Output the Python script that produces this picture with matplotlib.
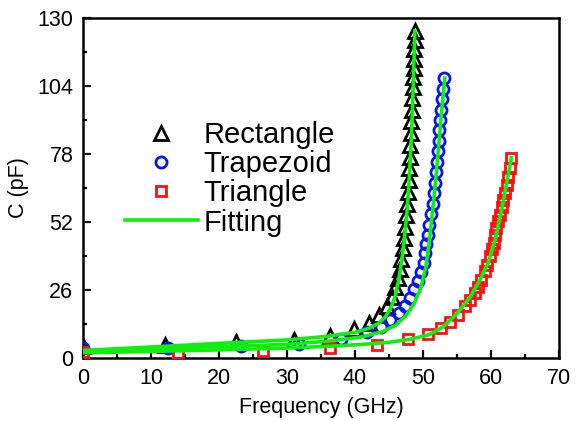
import matplotlib
matplotlib.use("Agg")
import matplotlib.pyplot as plt
from matplotlib.ticker import MultipleLocator

plt.rcParams['font.family'] = ['Liberation Sans', 'DejaVu Sans']

# ---- data ----
rect_f = [0, 12, 22.5, 31, 36.3, 39.8, 42.0, 43.6, 44.7, 45.4, 45.9, 46.3, 46.55, 46.8, 47.0,
          47.2, 47.4, 47.55, 47.7, 47.8, 47.9, 48.0, 48.07, 48.15, 48.22, 48.3, 48.37, 48.45,
          48.5, 48.57, 48.62, 48.67, 48.72, 48.78, 48.85]
rect_c = [4.5, 5, 6, 7, 8.5, 11, 13.5, 16.5, 20, 23.5, 27, 30.5, 34, 38, 42,
          46, 50, 54.5, 59, 63.5, 68, 72.5, 77, 81.5, 86, 90.5, 95, 99.5,
          103.5, 107.5, 111, 114.5, 118, 121.5, 125]

trap_f = [0, 12.5, 23.3, 31.8, 38, 41.8, 43.8, 45.2, 46.5, 47.4, 48.1, 48.7, 49.2, 49.7, 50.1,
          50.3, 50.5, 50.7, 50.95, 51.2, 51.4, 51.55, 51.7, 51.85, 52.0, 52.15, 52.3, 52.4,
          52.5, 52.6, 52.75, 52.9, 53.05]
trap_c = [4, 4, 4.5, 5.5, 7.3, 9.8, 12, 14.5, 17.2, 20, 23, 26.2, 29.5, 33, 36.5,
          40, 43.5, 47, 51, 55, 59, 63, 67, 71, 75, 79, 83, 87,
          91, 95, 99, 103, 107]

tri_f = [0, 14, 26.5, 36.3, 43.3, 47.8, 50.8, 52.7, 54.0, 55.2, 56.2, 56.9, 57.6, 58.1, 58.6,
         59.1, 59.4, 59.8, 60.1, 60.4, 60.6, 60.8, 61.1, 61.3, 61.6, 61.8, 62.1, 62.3, 62.5,
         62.8, 63.0]
tri_c = [2.2, 2.0, 2.5, 3.7, 5.0, 7.1, 9.0, 11.4, 13.9, 16.4, 19.7, 22.2, 24.8, 27.3, 29.9,
         33.2, 35.7, 38.9, 41.5, 44.0, 47.2, 49.8, 52.3, 54.7, 57.9, 60.4, 63.0, 66.2, 69.3,
         72.5, 76.3]

fit_rect_f = [0, 10, 20, 30, 36, 40, 42, 43.5, 44.5, 45.3, 45.9, 46.4, 46.9, 47.3, 47.7,
              48.0, 48.3, 48.55, 48.8]
fit_rect_c = [2.9, 4.2, 5.6, 6.9, 8.3, 9.8, 11.3, 13.3, 15.8, 19.3, 23.5, 29.5, 37.5, 46.5,
              57.5, 69.5, 84.5, 102.5, 125]

fit_trap_f = [0, 10, 20, 30, 36.3, 41, 44, 46, 47.5, 48.7, 49.7, 50.4, 50.9, 51.4, 51.9,
              52.3, 52.7, 53.0, 53.2]
fit_trap_c = [2.6, 3.5, 4.4, 5.2, 6.5, 8.1, 10, 12.5, 16.2, 20.8, 27, 34.5, 44, 56, 69,
              81, 93, 101.5, 107]

fit_tri_f = [0, 10, 20, 30, 36.3, 41, 45, 48, 51, 53, 55, 57, 58.4, 59.6, 60.6, 61.4, 62.1,
             62.6, 63.0]
fit_tri_c = [2.0, 2.5, 3.1, 3.8, 4.5, 5.2, 6.0, 7.1, 9.0, 12.0, 17.0, 23.5, 30, 36.5, 45,
             54.5, 64, 71, 76.5]

labels = ["Rectangle", "Trapezoid", "Triangle", "Fitting"]
x_ticks = [0, 10, 20, 30, 40, 50, 60, 70]
y_ticks = [0, 26, 52, 78, 104, 130]

green = "#10ee10"

fig = plt.figure(figsize=(5.77, 4.21), dpi=100)
ax = fig.add_axes([83 / 577, 1 - 358 / 421, 476 / 577, 340 / 421])

h1, = ax.plot(rect_f, rect_c, linestyle="none", marker="^", ms=9.5, mfc="none",
              mec="black", mew=2.0, label=labels[0], zorder=3)
h2, = ax.plot(trap_f, trap_c, linestyle="none", marker="o", ms=8, mfc="none",
              mec="#0a14f0", mew=2.0, label=labels[1], zorder=3)
h3, = ax.plot(tri_f, tri_c, linestyle="none", marker="s", ms=7, mfc="none",
              mec="#ff1010", mew=2.0, label=labels[2], zorder=3)
h4, = ax.plot(fit_rect_f, fit_rect_c, color=green, lw=2.6, label=labels[3], zorder=4)
ax.plot(fit_trap_f, fit_trap_c, color=green, lw=2.6, zorder=4)
ax.plot(fit_tri_f, fit_tri_c, color=green, lw=2.6, zorder=4)

ax.set_xlim(0, 70)
ax.set_ylim(0, 130)
ax.set_xticks(x_ticks)
ax.set_yticks(y_ticks)
ax.xaxis.set_minor_locator(MultipleLocator(5))
ax.yaxis.set_minor_locator(MultipleLocator(13))
ax.tick_params(which="both", direction="in", top=False, right=False, width=1.6,
               labelsize=15.5, pad=7)
ax.tick_params(which="major", length=6)
ax.tick_params(which="minor", length=3)
for s in ax.spines.values():
    s.set_linewidth(1.8)

ax.set_xlabel("Frequency (GHz)", fontsize=15.5, labelpad=6)
ax.set_ylabel("C (pF)", fontsize=15.5, labelpad=6)

leg = ax.legend(handles=[h1, h2, h3, h4], loc="upper left",
                bbox_to_anchor=(0.088, 0.697), frameon=False, fontsize=21,
                handlelength=2.5, handletextpad=0.2, labelspacing=0.04,
                borderpad=0, borderaxespad=0)

fig.savefig("out.png", dpi=100)
